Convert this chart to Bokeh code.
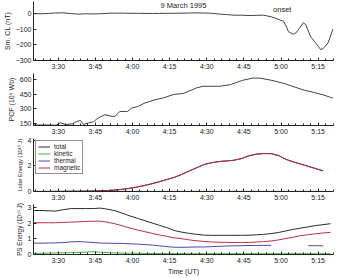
import math
from bokeh.plotting import figure
from bokeh.layouts import column
from bokeh.models import Range1d, FixedTicker, Legend, LegendItem
from bokeh.embed import file_html
from bokeh.resources import INLINE

NAN = float("nan")
FONT = "Liberation Sans"

# ---------------- data (time in minutes UT since 00:00) ----------------
major_ticks = [210, 225, 240, 255, 270, 285, 300, 315]
tick_labels = ["3:30", "3:45", "4:00", "4:15", "4:30", "4:45", "5:00", "5:15"]
minor_ticks = [201, 204, 207, 213, 216, 219, 222, 228, 231, 234, 237, 243, 246, 249, 252,
               258, 261, 264, 267, 273, 276, 279, 282, 288, 291, 294, 297, 303, 306, 309,
               312, 318, 321]

cl_t = [200, 203, 206, 209, 212, 215, 218, 221, 224, 227, 230, 233, 236, 239, 242, 245,
        248, 251, 254, 257, 260, 263, 266, 269, 272, 275, 278, 281, 284, 287, 290, 293,
        296, 298, 300, 301, 302, 303, 305, 306, 307.5, 309, 310, 312, 314, 316, 317, 319, 321]
cl_v = [-2, -3, -1, 2, 3, -2, -5, -3, -4, -3, 0, 1, 1, 0, 0, -1,
        -1, -1, 0, 0, 1, 2, 3, 2, 0, -5, -8, -12, -12, -14, -13, -12,
        -22, -33, -45, -50, -80, -117, -133, -125, -95, -60, -72, -150, -188, -230, -225, -188, -100]

pcf_t = [200, 203, 206, 209, 211, 213, 215.7, 217.7, 219, 220.2, 222.2, 224.2, 226.1, 228.9,
         231.7, 232.9, 234.9, 238, 239.6, 242, 244.8, 248.7, 252.7, 256.7, 260.6, 265.8,
         268.5, 272, 275.3, 279.6, 284.4, 288.4, 291.5, 296.3, 301.4, 305.4, 309.4, 313.3,
         317.3, 320, 321]
pcf_v = [135, 135, 135, 133, 157, 140, 147, 173, 180, 140, 157, 167, 207, 240,
         223, 223, 273, 273, 307, 323, 357, 390, 413, 447, 457, 513,
         530, 530, 530, 547, 590, 613, 613, 590, 557, 523, 490, 467,
         440, 417, 410]

lobe_t = [200, 203, 206, 209, 212, 215, 218, 221, 224, 227, 230, 233, 236, 239, 242, 245,
          248, 251, 254, 257, 260, 263, 266, 269, 272, 275, 278, 281, 284, 287, 290, 293,
          296, 299, 302, 305, 308, 311, 314, 317]
lobe_total = [0.0, 0.0, 0.0, 0.01, 0.01, 0.02, 0.02, 0.03, 0.04, 0.06, 0.08, 0.12, 0.18, 0.26,
              0.36, 0.48, 0.62, 0.78, 0.95, 1.12, 1.35, 1.62, 1.87, 2.12, 2.26, 2.35, 2.4,
              2.45, 2.58, 2.8, 2.93, 2.98, 2.97, 2.82, 2.52, 2.32, 2.15, 1.97, 1.8, 1.62]
lobe_magnetic = [0.0, 0.0, 0.0, 0.0, 0.0, 0.01, 0.01, 0.02, 0.03, 0.05, 0.07, 0.11, 0.17, 0.25,
                 0.35, 0.47, 0.61, 0.77, 0.94, 1.11, 1.34, 1.61, 1.86, 2.11, 2.25, 2.34, 2.39,
                 2.44, 2.57, 2.79, 2.92, 2.97, 2.96, 2.81, 2.51, 2.31, 2.14, 1.96, 1.79, 1.61]
lobe_thermal = [0.01, 0.01, 0.01, 0.01, 0.01, 0.01, 0.01, 0.01, 0.01, 0.01, 0.01, 0.01, 0.01, 0.01,
                0.01, 0.01, 0.01, 0.01, 0.01, 0.01, 0.01, 0.01, 0.01, 0.01, 0.01, 0.01, 0.01,
                0.01, 0.01, 0.01, 0.01, 0.01, 0.01, 0.01, 0.01, 0.01, 0.01, 0.01, 0.01, 0.01]
lobe_kinetic = [0.0, 0.0, 0.0, 0.0, 0.0, 0.0, 0.0, 0.0, 0.0, 0.0, 0.0, 0.0, 0.0, 0.0,
                0.0, 0.0, 0.0, 0.0, 0.0, 0.0, 0.0, 0.0, 0.0, 0.0, 0.0, 0.0, 0.0,
                0.0, 0.0, 0.0, 0.0, 0.0, 0.0, 0.0, 0.0, 0.0, 0.0, 0.0, 0.0, 0.0]

ps_t = [200, 203, 206, 209, 212, 215, 218, 221, 224, 227, 230, 233, 236, 239, 242, 245,
        248, 251, 254, 257, 260, 263, 266, 269, 272, 275, 278, 281, 284, 287, 290, 293,
        296, 299, 302, 305, 308, 311, 314, 317, 320]
ps_total = [2.8, 2.8, 2.78, 2.76, 2.85, 2.92, 2.92, 2.92, 2.92, 2.95, 2.88, 2.78, 2.62, 2.45,
            2.3, 2.15, 2.0, 1.85, 1.7, 1.52, 1.42, 1.34, 1.28, 1.23, 1.22, 1.22, 1.22, 1.22,
            1.22, 1.23, 1.25, 1.28, 1.33, 1.4, 1.5, 1.6, 1.68, 1.76, 1.84, 1.9, 1.96]
ps_magnetic = [2.02, 2.02, 2.02, 2.02, 2.04, 2.06, 2.08, 2.1, 2.12, 2.12, 2.05, 1.95, 1.82, 1.68,
               1.56, 1.45, 1.34, 1.24, 1.15, 1.06, 1.0, 0.93, 0.87, 0.83, 0.8, 0.78, 0.77, 0.76,
               0.76, 0.77, 0.79, 0.82, 0.86, 0.93, 1.02, 1.1, 1.2, 1.26, 1.32, 1.37, 1.41]
ps_thermal = [0.72, 0.72, 0.73, 0.74, 0.76, 0.8, 0.82, 0.8, 0.76, 0.73, 0.72, 0.71, 0.7, 0.68,
              0.66, 0.63, 0.6, 0.55, 0.5, 0.46, 0.46, 0.47, 0.48, 0.48, 0.5, 0.52, 0.54, 0.55,
              0.56, 0.57, 0.57, 0.58, 0.58, NAN, NAN, NAN, NAN, 0.56, 0.56, 0.55, NAN]
ps_kinetic = [0.08, 0.08, 0.09, 0.1, 0.11, 0.12, 0.13, 0.15, 0.18, 0.15, 0.12, 0.1, 0.09, 0.08,
              0.08, 0.07, 0.07, 0.06, 0.06, 0.06, 0.05, 0.05, 0.05, 0.05, 0.05, 0.05, 0.05, 0.05,
              0.05, 0.05, 0.05, 0.05, 0.05, 0.05, 0.05, 0.05, 0.05, 0.05, 0.05, 0.05, 0.05]

C_TOTAL = "#2a2a2a"
C_KIN = "#3cb83c"
C_THERM = "#4848a8"
C_MAG = "#b8304a"

xr = Range1d(200, 321.2)


def make_fig(h, top, bottom, yr, yticks, ylabel, label_size="7px"):
    p = figure(width=337, height=h, x_range=xr, y_range=Range1d(*yr),
               output_backend="svg", toolbar_location=None,
               min_border_left=27, min_border_right=4,
               min_border_top=top, min_border_bottom=bottom)
    p.outline_line_color = None
    p.grid.visible = False
    p.background_fill_color = "white"
    p.border_fill_color = "white"
    xa = p.xaxis[0]
    xa.ticker = FixedTicker(ticks=major_ticks, minor_ticks=minor_ticks)
    xa.major_label_overrides = {t: l for t, l in zip(major_ticks, tick_labels)}
    ya = p.yaxis[0]
    ya.ticker = FixedTicker(ticks=yticks, minor_ticks=[])
    ya.axis_label = ylabel
    for ax in (xa, ya):
        ax.major_tick_in = 3
        ax.major_tick_out = 0
        ax.minor_tick_in = 2
        ax.minor_tick_out = 0
        ax.axis_line_color = "#222222"
        ax.major_tick_line_color = "#222222"
        ax.minor_tick_line_color = "#222222"
        ax.major_label_text_font = FONT
        ax.major_label_text_font_size = "7px"
        ax.major_label_text_color = "#222222"
        ax.major_label_standoff = 2
        ax.axis_label_text_font = FONT
        ax.axis_label_text_font_size = "7px"
        ax.axis_label_text_font_style = "normal"
        ax.axis_label_text_color = "#222222"
        ax.axis_label_standoff = 2
    ya.axis_label_text_font_size = label_size
    return p


# top panel: frame starts at the very top so the title and "onset" sit inside it
p1 = make_fig(72, 1, 11, (-300, 75), [-300, -200, -100, 0], "Sm. CL (nT)")
p1.line(cl_t, cl_v, line_color="#444444", line_width=1)
p1.text(x=[260.6], y=[50], text=["9 March 1995"], text_font={"value": FONT},
        text_font_size="7.5px", text_align="center", text_baseline="middle",
        text_color="#222222")
p1.text(x=[300.5], y=[24], text=["onset"], text_font={"value": FONT},
        text_font_size="7.5px", text_align="center", text_baseline="middle",
        text_color="#222222")

p2 = make_fig(65, 1, 11, (130, 660), [150, 300, 450, 600], "PCF (10\u2075 Wb)")
p2.line(pcf_t, pcf_v, line_color="#444444", line_width=1)

p3 = make_fig(66, 1, 11, (0, 4.15), [0, 2, 4], "Lobe Energy (10\u00b9\u2075 J)",
              label_size="5.7px")
r_tot = p3.line(lobe_t, lobe_total, line_color=C_TOTAL, line_width=1)
r_kin = p3.line(lobe_t, lobe_kinetic, line_color=C_KIN, line_width=1)
r_the = p3.line(lobe_t, lobe_thermal, line_color=C_THERM, line_width=1)
r_mag = p3.line(lobe_t, lobe_magnetic, line_color=C_MAG, line_width=1)
legend = Legend(items=[LegendItem(label="total", renderers=[r_tot]),
                       LegendItem(label="kinetic", renderers=[r_kin]),
                       LegendItem(label="thermal", renderers=[r_the]),
                       LegendItem(label="magnetic", renderers=[r_mag])],
                location="top_left")
legend.label_text_font = FONT
legend.label_text_font_size = "6.5px"
legend.label_text_color = "#222222"
legend.label_height = 7
legend.glyph_height = 7
legend.glyph_width = 12
legend.label_standoff = 4
legend.spacing = 0
legend.padding = 2
legend.margin = 2
legend.border_line_color = "#222222"
legend.border_line_width = 0.8
legend.background_fill_alpha = 1.0
p3.add_layout(legend)

p4 = make_fig(74, 1, 20, (0, 3.18), [0, 1, 2, 3], "PS Energy (10\u00b9\u2075 J)",
              label_size="6.3px")
p4.xaxis[0].axis_label = "Time (UT)"
p4.xaxis[0].axis_label_standoff = 1
p4.line(ps_t, ps_total, line_color=C_TOTAL, line_width=1)
p4.line(ps_t, ps_kinetic, line_color=C_KIN, line_width=1)
p4.line(ps_t, ps_thermal, line_color=C_THERM, line_width=1)
p4.line(ps_t, ps_magnetic, line_color=C_MAG, line_width=1)

layout = column(p1, p2, p3, p4, spacing=0)

with open("out.html", "w") as f:
    f.write(file_html(layout, INLINE))
